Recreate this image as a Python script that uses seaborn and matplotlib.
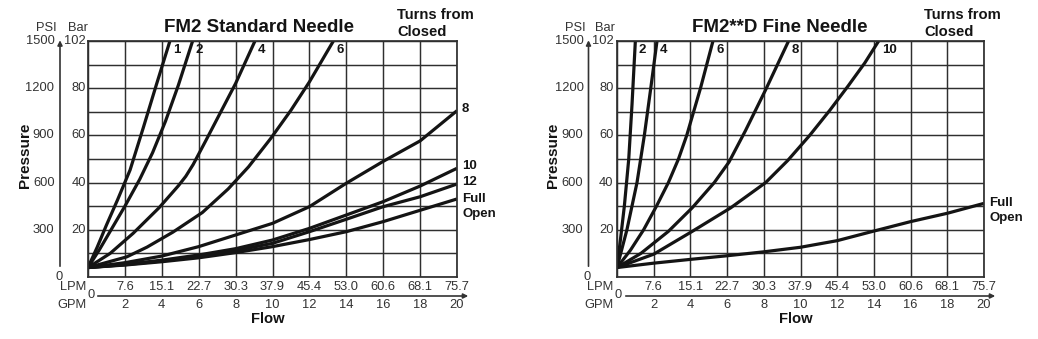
import numpy as np
import pandas as pd
import matplotlib
matplotlib.use("Agg")
import matplotlib.pyplot as plt
import seaborn as sns
from matplotlib.transforms import blended_transform_factory

# ---------------- data ----------------
gpm_ticks = [2, 4, 6, 8, 10, 12, 14, 16, 18, 20]
lpm_labels = ["7.6", "15.1", "22.7", "30.3", "37.9", "45.4", "53.0", "60.6", "68.1", "75.7"]
psi_ticks = [300, 600, 900, 1200, 1500]
psi_labels = ["300", "600", "900", "1200", "1500"]
bar_labels = ["20", "40", "60", "80", "102"]

# FM2 Standard Needle (flow GPM, pressure PSI)
std_1_gpm = [0, 0.5, 1.0, 1.6, 2.28, 3.0, 3.7, 4.44]
std_1_psi = [60, 190, 330, 490, 680, 950, 1220, 1500]
std_2_gpm = [0, 0.6, 1.25, 2.0, 2.8, 3.5, 4.2, 4.9, 5.67]
std_2_psi = [60, 170, 300, 450, 620, 790, 990, 1220, 1500]
std_4_gpm = [0, 1.2, 2.45, 3.85, 4.9, 5.3, 5.7, 6.4, 7.2, 8.0, 9.05]
std_4_psi = [60, 150, 278, 440, 580, 640, 715, 870, 1050, 1230, 1500]
std_6_gpm = [0, 2.1, 3.2, 4.6, 6.2, 7.6, 8.7, 9.9, 11.0, 12.0, 13.3]
std_6_psi = [60, 128, 190, 285, 410, 560, 700, 880, 1060, 1240, 1500]
std_flow = [0, 2, 4, 6, 8, 10, 12, 14, 16, 18, 20]
std_8_psi = [60, 91, 133, 193, 267, 341, 447, 596, 735, 865, 1057]
std_10_psi = [60, 80, 107, 140, 180, 235, 309, 394, 479, 578, 691]
std_12_psi = [60, 78, 102, 130, 168, 214, 288, 367, 447, 510, 591]
std_full_psi = [60, 76, 97, 122, 155, 193, 238, 288, 352, 424, 496]

# FM2**D Fine Needle
fine_2_gpm = [0, 0.2, 0.4, 0.64, 0.82, 1.0]
fine_2_psi = [60, 250, 450, 750, 1100, 1500]
fine_4_gpm = [0, 0.54, 1.09, 1.29, 1.49, 1.84, 2.18]
fine_4_psi = [60, 300, 600, 750, 900, 1200, 1500]
fine_6_gpm = [0, 0.73, 1.45, 2.15, 2.8, 3.35, 3.8, 4.55, 5.23]
fine_6_psi = [60, 170, 300, 450, 600, 750, 900, 1200, 1500]
fine_8_gpm = [0, 1.3, 2.8, 4.1, 5.3, 6.1, 7.0, 8.1, 9.35]
fine_8_psi = [60, 150, 290, 440, 600, 730, 930, 1190, 1500]
fine_10_gpm = [0, 2, 4.1, 6.2, 8.1, 9.3, 10.5, 11.6, 12.6, 13.5, 14.26]
fine_10_psi = [60, 145, 290, 440, 600, 740, 900, 1060, 1215, 1360, 1500]
fine_full_gpm = [0, 2, 4, 6, 8, 10, 12, 14, 16, 18, 20]
fine_full_psi = [60, 88, 112, 135, 160, 189, 231, 292, 352, 405, 468]


def frame(curves):
    rows = []
    for name, g, p in curves:
        for a, b in zip(g, p):
            rows.append((name, a, b))
    return pd.DataFrame(rows, columns=["turns", "gpm", "psi"])


std_curves = [("1", std_1_gpm, std_1_psi), ("2", std_2_gpm, std_2_psi),
              ("4", std_4_gpm, std_4_psi), ("6", std_6_gpm, std_6_psi),
              ("8", std_flow, std_8_psi), ("10", std_flow, std_10_psi),
              ("12", std_flow, std_12_psi), ("Full", std_flow, std_full_psi)]
fine_curves = [("2", fine_2_gpm, fine_2_psi), ("4", fine_4_gpm, fine_4_psi),
               ("6", fine_6_gpm, fine_6_psi), ("8", fine_8_gpm, fine_8_psi),
               ("10", fine_10_gpm, fine_10_psi), ("Full", fine_full_gpm, fine_full_psi)]

# ---------------- style ----------------
sns.set_style("white")
plt.rcParams['font.family'] = ['Liberation Sans', 'DejaVu Sans']

W, H = 1038, 339
fig = plt.figure(figsize=(W / 100, H / 100), dpi=100)

GRAY = "#333333"
INK = "#141414"
TICK_FS = 9.3
BOLD_FS = 10.6


def fx(px):
    return px / W


def fy(py):
    return 1 - py / H


def draw_chart(x0, x1, y0, y1, curves, title, title_cx, turns_x, yaxis_x,
               psi_right, bar_right, psi_hdr, bar_hdr, pres_x, lpm_right,
               zero_x, line_x0, line_x1, flow_cx):
    ax = fig.add_axes([fx(x0), fy(y1), fx(x1 - x0), (y1 - y0) / H])
    df = frame(curves)
    sns.lineplot(data=df, x="gpm", y="psi", units="turns", estimator=None,
                 sort=False, color=INK, lw=2.3, ax=ax, legend=False,
                 solid_capstyle="butt", solid_joinstyle="round")
    ax.set_xlim(0, 20)
    ax.set_ylim(0, 1500)
    ax.set_xticks(np.arange(0, 21, 2))
    ax.set_yticks(np.arange(0, 1501, 150))
    ax.tick_params(length=0, labelbottom=False, labelleft=False)
    ax.grid(True, color="#2f2f2f", lw=1.05)
    ax.set_xlabel("")
    ax.set_ylabel("")
    for s in ax.spines.values():
        s.set_color("#2f2f2f")
        s.set_linewidth(1.25)

    # curve labels
    for name, g, p in curves:
        if name == "Full":
            ax.annotate("Full", xy=(g[-1], p[-1]), xytext=(4, 0),
                        textcoords="offset points", ha="left", va="center",
                        fontsize=9.5, fontweight="bold", color=INK,
                        annotation_clip=False)
            ax.annotate("Open", xy=(g[-1], p[-1]), xytext=(4, -10.5),
                        textcoords="offset points", ha="left", va="center",
                        fontsize=9.5, fontweight="bold", color=INK,
                        annotation_clip=False)
        elif p[-1] >= 1500:
            ax.annotate(name, xy=(g[-1], p[-1]), xytext=(2.3, -6.5),
                        textcoords="offset points", ha="left", va="center",
                        fontsize=9.5, fontweight="bold", color=INK,
                        annotation_clip=False)
        else:
            ax.annotate(name, xy=(g[-1], p[-1]), xytext=(3.6, 1.5),
                        textcoords="offset points", ha="left", va="center",
                        fontsize=9.5, fontweight="bold", color=INK,
                        annotation_clip=False)

    # left pressure scales
    ty = blended_transform_factory(fig.transFigure, ax.transData)
    for v, lab, bl in zip(psi_ticks, psi_labels, bar_labels):
        fig.text(fx(psi_right), v, lab, transform=ty, ha="right", va="center",
                 fontsize=TICK_FS, color=GRAY)
        fig.text(fx(bar_right), v, bl, transform=ty, ha="right", va="center",
                 fontsize=TICK_FS, color=GRAY)
    fig.text(fx(yaxis_x - 1), fy(277), "0", ha="center", va="center",
             fontsize=TICK_FS, color=GRAY)
    fig.text(fx(psi_hdr), fy(28), "PSI", ha="center", va="center",
             fontsize=TICK_FS, color=GRAY)
    fig.text(fx(bar_hdr), fy(28), "Bar", ha="center", va="center",
             fontsize=TICK_FS, color=GRAY)
    fig.text(fx(pres_x), fy(155), "Pressure", rotation=90, ha="center",
             va="center", fontsize=11, fontweight="bold", color=INK)
    fig.add_artist(matplotlib.patches.FancyArrowPatch(
        (fx(yaxis_x), fy(269)), (fx(yaxis_x), fy(37.5)),
        transform=fig.transFigure, arrowstyle="-|>", mutation_scale=7,
        lw=1.2, color=GRAY))

    # flow scales
    tx = blended_transform_factory(ax.transData, fig.transFigure)
    for v, lab in zip(gpm_ticks, lpm_labels):
        fig.text(v, fy(287.5), lab, transform=tx, ha="center", va="center",
                 fontsize=TICK_FS, color=GRAY)
        fig.text(v, fy(305), str(v), transform=tx, ha="center", va="center",
                 fontsize=TICK_FS, color=GRAY)
    fig.text(fx(lpm_right), fy(287.5), "LPM", ha="right", va="center",
             fontsize=TICK_FS, color=GRAY)
    fig.text(fx(lpm_right), fy(305), "GPM", ha="right", va="center",
             fontsize=TICK_FS, color=GRAY)
    fig.text(fx(zero_x), fy(295), "0", ha="center", va="center",
             fontsize=TICK_FS, color=GRAY)
    fig.add_artist(matplotlib.patches.FancyArrowPatch(
        (fx(line_x0), fy(296)), (fx(line_x1), fy(296)),
        transform=fig.transFigure, arrowstyle="-|>", mutation_scale=7,
        lw=1.2, color=GRAY))
    fig.text(fx(flow_cx), fy(319), "Flow", ha="center", va="center",
             fontsize=BOLD_FS, fontweight="bold", color=INK)

    # titles
    fig.text(fx(title_cx), fy(28), title, ha="center", va="center",
             fontsize=13.5, fontweight="bold", color=INK)
    fig.text(fx(turns_x), fy(15), "Turns from", ha="left", va="center",
             fontsize=BOLD_FS, fontweight="bold", color=INK)
    fig.text(fx(turns_x), fy(32), "Closed", ha="left", va="center",
             fontsize=BOLD_FS, fontweight="bold", color=INK)
    return ax


draw_chart(88, 457, 41, 277, std_curves, "FM2 Standard Needle", 259, 397,
           60, 54.5, 86, 46.5, 78, 25, 86.5, 91, 95, 471, 268)
draw_chart(617, 984, 41, 277, fine_curves, "FM2**D Fine Needle", 779.5, 924,
           588.5, 583.5, 613.5, 575, 605.5, 552.5, 613.5, 618, 623, 998, 796)

fig.savefig("out.png", dpi=100)
